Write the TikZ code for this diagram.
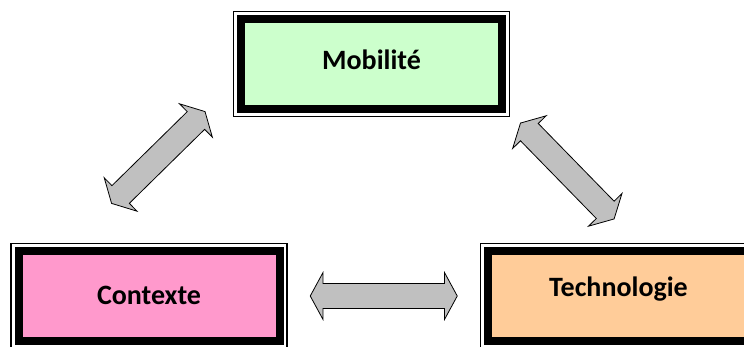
\documentclass[tikz,border=0pt]{standalone}
\usepackage{fontspec}
\setmainfont{Carlito}
\usetikzlibrary{calc}
\usetikzlibrary{shapes.arrows}
\definecolor{vertclair}{RGB}{204,255,204}
\definecolor{rose}{RGB}{255,153,204}
\definecolor{orangeclair}{RGB}{255,204,153}
\definecolor{grisfleche}{RGB}{192,192,192}
\tikzset{every picture/.style={line width=0.75pt}}
\tikzset{
  cadre/.style={draw=black, line width=8pt, minimum width=261pt, minimum height=90pt, inner sep=0pt, text height=18pt, font=\fontsize{28}{32}\selectfont\bfseries},
  filet/.style={draw=black, line width=1.2pt},
  fleche/.style={double arrow, draw=black, fill=grisfleche, line width=0.8pt, inner sep=0pt, text height=12pt, text depth=12pt, minimum width=46pt, double arrow head extend=11pt, double arrow tip angle=123},
}
\begin{document}
\begin{tikzpicture}[x=1pt,y=1pt,yscale=-1,xscale=1]
\useasboundingbox (0,0) rectangle (744,347);

%Shape: Rectangle
\node (mob) [cadre, fill=vertclair, text depth=6pt] at (371.5,64) {Mobilité};
\draw [filet] ($(mob.north west)+(-3.5,-3.5)$) rectangle ($(mob.south east)+(3.5,3.5)$);
%Shape: Rectangle
\node (ctx) [cadre, fill=rose, text depth=0pt] at (149,296) {Contexte};
\draw [filet] ($(ctx.north west)+(-3.5,-3.5)$) rectangle ($(ctx.south east)+(3.5,3.5)$);
%Shape: Rectangle
\node (tech) [cadre, fill=orangeclair, text depth=16pt] at (618.5,296) {Technologie};
\draw [filet] ($(tech.north west)+(-3.5,-3.5)$) rectangle ($(tech.south east)+(3.5,3.5)$);

%Shape: Double Arrow
\node (fl1) [fleche, minimum height=131pt, rotate=44.5] at (158.3,157.5) {};
%Shape: Double Arrow
\node (fl2) [fleche, minimum height=134pt, rotate=-45.7] at (567.3,171) {};
%Shape: Double Arrow
\node (fl3) [fleche, minimum height=147pt] at ($(ctx)!0.5!(tech)$) {};

\end{tikzpicture}
\end{document}
